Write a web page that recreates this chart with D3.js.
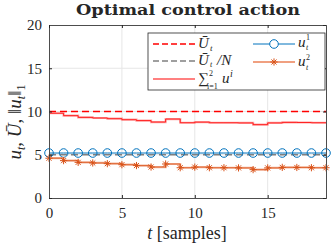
<!DOCTYPE html>
<html>
<head>
<script src="https://d3js.org/d3.v7.min.js" charset="utf-8"></script>
<style>
    body { margin: 0; background: #fff; }
    text { font-family: "Liberation Serif", serif; fill: #262626; }
</style>
</head>
<body>
<script>
    // data
    var steps = [0,1,2,3,4,5,6,7,8,9,10,11,12,13,14,15,16,17,18,19];
    var u1 = [5.2,5.2,5.2,5.2,5.2,5.2,5.2,5.2,5.2,5.2,5.2,5.2,5.2,5.2,5.2,5.2,5.2,5.2,5.2,5.2];
    var u2 = [4.6,4.32,4.12,4.05,3.97,3.85,3.75,3.58,3.93,3.5,3.57,3.5,3.5,3.48,3.28,3.48,3.54,3.53,3.5,3.5];
    var Ubar = 10;
    var N = 2;
    var xTicks = [0,5,10,15];
    var yTicks = [0,5,10,15,20];

    var uSum = u1.map(function(v, i) { return v + u2[i]; });

    var wid = 332, h = 246;
    var m = {left: 49, right: 326, top: 25, bottom: 198};

    var svg = d3.select("body").append("svg")
        .attr("width", wid)
        .attr("height", h);

    var x = d3.scaleLinear().domain([0, 19]).range([m.left, m.right]);
    var y = d3.scaleLinear().domain([0, 20]).range([m.bottom, m.top]);

    // grid
    svg.selectAll(".gx").data(xTicks.slice(1)).enter().append("line")
        .attr("x1", d => x(d)).attr("x2", d => x(d))
        .attr("y1", m.top).attr("y2", m.bottom)
        .attr("stroke", "#e6e6e6").attr("stroke-width", 1);
    svg.selectAll(".gy").data(yTicks.slice(1, 4)).enter().append("line")
        .attr("x1", m.left).attr("x2", m.right)
        .attr("y1", d => y(d)).attr("y2", d => y(d))
        .attr("stroke", "#e6e6e6").attr("stroke-width", 1);

    var stair = d3.line().x(d => x(d[0])).y(d => y(d[1])).curve(d3.curveStepAfter);

    // reference lines
    svg.append("line")
        .attr("x1", m.left).attr("x2", m.right)
        .attr("y1", y(Ubar / N)).attr("y2", y(Ubar / N))
        .attr("stroke", "#808080").attr("stroke-width", 1.3).attr("stroke-dasharray", "7,4");
    svg.append("line")
        .attr("x1", m.left).attr("x2", m.right)
        .attr("y1", y(Ubar)).attr("y2", y(Ubar))
        .attr("stroke", "#ff0000").attr("stroke-width", 1.3).attr("stroke-dasharray", "7,4");

    // sum of inputs
    var sumPts = steps.map((t, i) => [t, uSum[i]]);
    svg.append("path").attr("d", stair(sumPts))
        .attr("fill", "none").attr("stroke", "#ff8080").attr("stroke-width", 2.2).attr("opacity", 0.7);
    svg.append("path").attr("d", stair(sumPts))
        .attr("fill", "none").attr("stroke", "#ff0000").attr("stroke-width", 0.8);

    // u1
    var u1Pts = steps.map((t, i) => [t, u1[i]]);
    svg.append("path").attr("d", stair(u1Pts))
        .attr("fill", "none").attr("stroke", "#0072bd").attr("stroke-width", 1);
    svg.selectAll(".c1").data(u1Pts).enter().append("circle")
        .attr("cx", d => x(d[0])).attr("cy", d => y(d[1])).attr("r", 4.3)
        .attr("fill", "none").attr("stroke", "#0072bd").attr("stroke-width", 1);

    // u2
    var u2Pts = steps.map((t, i) => [t, u2[i]]);
    svg.append("path").attr("d", stair(u2Pts))
        .attr("fill", "none").attr("stroke", "#f0a080").attr("stroke-width", 2.2).attr("opacity", 0.8);
    svg.append("path").attr("d", stair(u2Pts))
        .attr("fill", "none").attr("stroke", "#d95319").attr("stroke-width", 0.8);

    function star(g, cx, cy, r) {
        [0, 45, 90, 135].forEach(function(a) {
            var rad = a * Math.PI / 180;
            g.append("line")
                .attr("x1", cx - r * Math.cos(rad)).attr("y1", cy - r * Math.sin(rad))
                .attr("x2", cx + r * Math.cos(rad)).attr("y2", cy + r * Math.sin(rad))
                .attr("stroke", "#d95319").attr("stroke-width", 1);
        });
    }
    var starG = svg.append("g");
    u2Pts.forEach(d => star(starG, x(d[0]), y(d[1]), 3.6));

    // axes box
    var xAxis = d3.axisBottom(x).tickValues(xTicks).tickSize(-3).tickPadding(9);
    var yAxis = d3.axisLeft(y).tickValues(yTicks).tickSize(-3).tickPadding(7);
    svg.append("g").attr("transform", "translate(0," + m.bottom + ")").call(xAxis);
    svg.append("g").attr("transform", "translate(" + m.left + ",0)").call(yAxis);
    svg.append("g").attr("transform", "translate(0," + m.top + ")")
        .call(d3.axisTop(x).tickValues(xTicks).tickSize(-3).tickFormat(""));
    svg.append("g").attr("transform", "translate(" + m.right + ",0)")
        .call(d3.axisRight(y).tickValues(yTicks).tickSize(-3).tickFormat(""));
    svg.selectAll(".domain").attr("stroke", "#4d4d4d").attr("stroke-width", 1);
    svg.selectAll(".tick line").attr("stroke", "#262626");
    svg.selectAll(".tick text").attr("font-family", "Liberation Serif").attr("font-size", 15)
        .style("font-family", "'Liberation Serif', serif").style("font-size", "15px").attr("fill", "#262626");

    // title
    svg.append("text")
        .attr("x", 188).attr("y", 15)
        .attr("text-anchor", "middle")
        .attr("textLength", 224).attr("lengthAdjust", "spacingAndGlyphs")
        .style("font-family", "DejaVu Serif, serif")
        .style("font-size", "14px").style("font-weight", "bold")
        .text("Optimal control action");

    // x label
    var xl = svg.append("text")
        .attr("x", 187).attr("y", 239)
        .attr("text-anchor", "middle")
        .style("font-size", "18px");
    xl.append("tspan").style("font-style", "italic").text("t");
    xl.append("tspan").text(" [samples]");

    // y label
    var yl = svg.append("text")
        .attr("transform", "translate(21," + 122 + ") rotate(-90)")
        .attr("text-anchor", "middle")
        .style("font-size", "19px");
    yl.append("tspan").style("font-style", "italic").text("u");
    yl.append("tspan").style("font-style", "italic").style("font-size", "12px").attr("dy", 4).text("t");
    yl.append("tspan").attr("dy", -4).text(", ");
    yl.append("tspan").style("font-style", "italic").text("\u016A");
    yl.append("tspan").text(", \u2016");
    yl.append("tspan").style("font-style", "italic").text("u");
    yl.append("tspan").style("font-style", "italic").style("font-size", "12px").attr("dy", 4).text("t");
    yl.append("tspan").attr("dy", -4).text("\u2016");
    yl.append("tspan").style("font-size", "12px").attr("dy", 4).text("1");

    // legend
    var lg = svg.append("g");
    lg.append("rect")
        .attr("x", 148).attr("y", 33).attr("width", 177).attr("height", 57)
        .attr("fill", "#fff").attr("stroke", "#262626").attr("stroke-width", 0.8);

    function txt(px, py, s, size, italic) {
        return lg.append("text").attr("x", px).attr("y", py)
            .style("font-size", size + "px")
            .style("font-style", italic ? "italic" : "normal")
            .text(s);
    }

    // col 1
    lg.append("line").attr("x1", 153).attr("x2", 195).attr("y1", 44).attr("y2", 44)
        .attr("stroke", "#ff0000").attr("stroke-width", 1.3).attr("stroke-dasharray", "6,3");
    txt(198, 48, "\u016A", 15, true);
    txt(210, 51, "t", 9, true);
    lg.append("line").attr("x1", 153).attr("x2", 195).attr("y1", 61).attr("y2", 61)
        .attr("stroke", "#808080").attr("stroke-width", 1.3).attr("stroke-dasharray", "6,3");
    txt(198, 65, "\u016A", 15, true);
    txt(210, 67, "t", 8, true);
    txt(217, 65, "/N", 15, true);
    lg.append("line").attr("x1", 153).attr("x2", 195).attr("y1", 79).attr("y2", 79)
        .attr("stroke", "#ff8080").attr("stroke-width", 1.8);
    txt(198, 83, "\u2211", 15, false);
    txt(209, 76, "2", 8, false);
    txt(207, 89, "i=1", 8, false);
    txt(222, 83, "u", 15, true);
    txt(230, 77, "i", 10, true);

    // col 2
    lg.append("line").attr("x1", 253).attr("x2", 295).attr("y1", 44).attr("y2", 44)
        .attr("stroke", "#0072bd").attr("stroke-width", 1);
    lg.append("circle").attr("cx", 274).attr("cy", 44).attr("r", 4.3)
        .attr("fill", "#fff").attr("stroke", "#0072bd").attr("stroke-width", 1);
    txt(298, 47, "u", 15, true);
    txt(306, 40, "1", 8, false);
    txt(306, 50, "t", 8, true);
    lg.append("line").attr("x1", 253).attr("x2", 295).attr("y1", 62).attr("y2", 62)
        .attr("stroke", "#f0a080").attr("stroke-width", 1.8);
    star(lg, 274, 62, 3.6);
    txt(298, 66, "u", 15, true);
    txt(306, 60, "2", 8, false);
    txt(306, 70, "t", 8, true);
</script>
</body>
</html>
